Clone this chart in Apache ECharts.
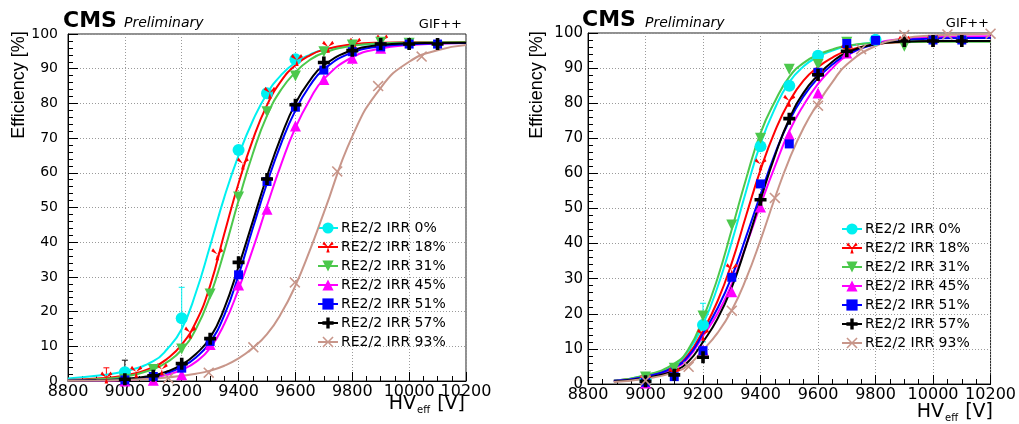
<!DOCTYPE html>
<html lang="en">
<head>
    <meta charset="UTF-8">
    <script src="https://cdn.jsdelivr.net/npm/echarts@6/dist/echarts.min.js"></script>
    <title>RE2/2 efficiency vs HVeff</title>
    <style>
        html, body {margin: 0; padding: 0; background: #fff;}
        #main {width: 1019px; height: 424px;}
    </style>
</head>
<body>
<div id="main"></div>
<script>
    // legend names
    var names = ['RE2/2 IRR 0%', 'RE2/2 IRR 18%', 'RE2/2 IRR 31%', 'RE2/2 IRR 45%',
        'RE2/2 IRR 51%', 'RE2/2 IRR 57%', 'RE2/2 IRR 93%'];

    // ---- left plot: fit curves ----
    var hvFitL = [8800, 8900, 9000, 9100, 9150, 9200, 9250, 9300, 9350, 9400, 9450,
        9500, 9550, 9600, 9650, 9700, 9800, 9900, 10000, 10100, 10200];
    var fitL0  = [0.7, 1.5, 2.8, 5.7, 9.3, 15, 25.5, 39, 53, 65, 75, 82.8, 88.2, 91.8, 94, 95.5, 96.8, 97.2, 97.3, 97.4, 97.4];
    var fitL18 = [0.3, 0.7, 1.6, 4, 6.5, 10.5, 17, 27.5, 42.5, 57, 69.5, 79.5, 86.5, 91, 93.8, 95.5, 97, 97.5, 97.6, 97.6, 97.6];
    var fitL31 = [0.2, 0.5, 1.2, 3.4, 5.5, 9, 15, 24.5, 37.5, 52, 65.5, 76.5, 84, 89, 92.5, 94.6, 96.6, 97.3, 97.5, 97.6, 97.6];
    var fitL45 = [0.05, 0.1, 0.3, 1, 1.8, 3.2, 5.5, 9.5, 16.5, 26.5, 38, 50.5, 62.5, 73, 81, 87, 93.3, 95.8, 96.8, 97.2, 97.4];
    var fitL51 = [0.1, 0.2, 0.5, 1.4, 2.4, 4.1, 6.8, 11.2, 19, 30.5, 44, 57, 68.5, 78, 85, 89.8, 94.7, 96.4, 97, 97.3, 97.4];
    var fitL57 = [0.1, 0.25, 0.6, 1.6, 2.8, 4.7, 7.8, 12.5, 21, 33, 46, 59, 70.5, 80, 86.5, 91, 95.3, 96.8, 97.3, 97.4, 97.5];
    var fitL93 = [0.1, 0.15, 0.3, 0.7, 1, 1.5, 2.1, 3, 4.4, 6.5, 9.5, 13.5, 19.5, 27.5, 37.5, 48.5, 70.5, 84.5, 92, 95.3, 96.8];

    // ---- left plot: measured points ----
    var ptsL0  = [[9000, 2.5], [9200, 18.1], [9400, 66.6], [9500, 82.9], [9600, 92.7]];
    var ptsL18 = [[8935, 1], [9040, 2.7], [9130, 3.4], [9230, 14], [9325, 36.5], [9415, 62.7], [9510, 83.1],
        [9605, 92.5], [9715, 96.3], [9810, 97.2], [9905, 98.1]];
    var ptsL31 = [[9000, 0.5], [9100, 3.3], [9200, 9.2], [9300, 25.1], [9400, 53], [9500, 77.6], [9600, 87.9],
        [9700, 94.9], [9800, 96.8], [9900, 97.6], [10000, 97.3]];
    var ptsL45 = [[9000, 0], [9100, 0.2], [9200, 1.8], [9300, 10.5], [9400, 27.7], [9500, 49.5], [9600, 73.5],
        [9700, 86.9], [9800, 93], [9900, 95.9]];
    var ptsL51 = [[9000, 0.3], [9100, 1.3], [9200, 3.7], [9300, 11.4], [9400, 30.6], [9500, 57.5], [9600, 78.9],
        [9700, 89.6], [9800, 94.9], [9900, 96.3], [10000, 97.1], [10100, 97.1]];
    var ptsL57 = [[9000, 0.5], [9100, 1.5], [9200, 5], [9300, 12.2], [9400, 34.2], [9500, 58.2], [9600, 79.6],
        [9700, 91.8], [9800, 95.2], [9900, 97.1], [10000, 97.1], [10100, 97.1]];
    var ptsL93 = [[9153, 0.8], [9295, 2.4], [9452, 9.7], [9598, 28.4], [9747, 60.4], [9891, 85], [10044, 93.5]];

    // error bars [hv, low, high]
    var errL0 = [[9200, 10, 27]];
    var errL18 = [[8935, 0, 3.8]];
    var errL57 = [[9000, 0, 6]];

    // ---- right plot: fit curves ----
    var hvFitR = [8890, 9000, 9100, 9150, 9200, 9250, 9300, 9350, 9400, 9450, 9500,
        9550, 9600, 9650, 9700, 9800, 9900, 10000, 10100, 10200];
    var fitR0  = [0.9, 2.4, 5.4, 9.5, 17, 27.5, 40.5, 55, 68.5, 78.5, 86, 90.5, 93.3, 95, 96.2, 97.3, 97.6, 97.7, 97.7, 97.7];
    var fitR18 = [0.9, 2.2, 4.9, 8.5, 15.2, 23.5, 34.5, 48, 61, 72, 80.5, 86.5, 90.3, 93, 94.9, 96.8, 97.4, 97.6, 97.7, 97.7];
    var fitR31 = [0.9, 2.5, 5.8, 10, 18.7, 30, 44, 58.5, 71.5, 80.5, 87.5, 91.5, 93.8, 95.3, 96.4, 97.2, 97.4, 97.5, 97.5, 97.5];
    var fitR45 = [0.8, 2, 4.5, 7.6, 13.7, 20, 28.5, 39.5, 51, 62, 72, 79.5, 85.5, 90, 93.5, 97, 98.3, 98.8, 99, 99.1];
    var fitR51 = [0.9, 2.1, 4.8, 8, 14.4, 21.5, 30.5, 42, 54, 65.5, 75, 82, 87.2, 91, 93.8, 96.8, 98, 98.4, 98.6, 98.6];
    var fitR57 = [0.7, 1.7, 3.8, 6.5, 12, 18.5, 27.5, 39.5, 52.5, 65, 75.5, 83, 88, 91.8, 94.4, 96.8, 97.5, 97.7, 97.7, 97.7];
    var fitR93 = [0.6, 1.5, 3.3, 5.5, 9.7, 14.5, 21, 30, 41, 53, 64, 73, 80, 86, 91, 96.3, 98.5, 99.3, 99.6, 99.8];

    // ---- right plot: measured points ----
    var ptsR0  = [[9000, 1.3], [9200, 16.8], [9400, 67.7], [9500, 85], [9600, 93.5], [9800, 98.1]];
    var ptsR18 = [[9000, 1], [9100, 3], [9200, 14], [9300, 32.7], [9400, 62.6], [9500, 80.7], [9600, 88],
        [9700, 95], [9900, 97.5], [10000, 97.8]];
    var ptsR31 = [[9000, 2], [9100, 4.5], [9200, 19.4], [9300, 45.3], [9400, 70], [9500, 89.7], [9600, 91],
        [9700, 97.4], [9900, 96.2], [10000, 97.5], [10100, 97.5]];
    var ptsR45 = [[9000, 0.3], [9200, 9.7], [9300, 26.3], [9400, 50.4], [9500, 71], [9600, 82.9], [9700, 94.3]];
    var ptsR51 = [[9000, 0.5], [9100, 2.1], [9200, 9.5], [9300, 30.4], [9400, 57], [9500, 68.4], [9600, 88.8],
        [9700, 97], [9800, 97.9], [10000, 98], [10100, 98]];
    var ptsR57 = [[9000, 0.8], [9100, 2.6], [9200, 7.6], [9400, 52.5], [9500, 75.6], [9600, 88.1], [9700, 94.8],
        [9900, 97.7], [10000, 97.7], [10100, 97.7]];
    var ptsR93 = [[9000, 1], [9150, 4.9], [9300, 20.9], [9450, 53], [9600, 79.3], [9750, 95.4], [9900, 99.4],
        [10050, 99.6], [10200, 99.8]];

    var errR0 = [[9200, 12, 23]];

    // axis ticks
    var hvMin = 8800, hvMax = 10200, hvStep = 200;
    var effMin = 0, effMax = 100, effStep = 10;

    // styles
    var colors = ['#00f0f0', '#ff0000', '#4cc84c', '#ff00ff', '#0000ff', '#000000', '#c8968a'];
    var symbols = [
        'circle',
        'path://M10 10 L13 20 L7 20 Z M10 10 L0 5 L3 0 Z M10 10 L17 0 L20 5 Z',
        'triangle',
        'triangle',
        'rect',
        'path://M7 0 H13 V7 H20 V13 H13 V20 H7 V13 H0 V7 H7 Z',
        'path://M0 2 L2 0 L10 8 L18 0 L20 2 L12 10 L20 18 L18 20 L10 12 L2 20 L0 18 L8 10 Z'
    ];
    var symRot = [0, 0, 180, 0, 0, 0, 0];
    var symSize = [12, 12, 11, 11, 9, 12, 11];

    var fitsL = [fitL0, fitL18, fitL31, fitL45, fitL51, fitL57, fitL93];
    var ptsL = [ptsL0, ptsL18, ptsL31, ptsL45, ptsL51, ptsL57, ptsL93];
    var fitsR = [fitR0, fitR18, fitR31, fitR45, fitR51, fitR57, fitR93];
    var ptsR = [ptsR0, ptsR18, ptsR31, ptsR45, ptsR51, ptsR57, ptsR93];

    var chart = echarts.init(document.getElementById('main'), null, {renderer: 'canvas'});

    function zip(xs, ys) {
        return xs.map(function (x, i) { return [x, ys[i]]; });
    }

    function errSeries(idx, data, color) {
        return {
            type: 'custom', xAxisIndex: idx, yAxisIndex: idx, z: 3,
            encode: {x: 0, y: [1, 2]},
            data: data,
            renderItem: function (params, api) {
                var a = api.coord([api.value(0), api.value(1)]);
                var b = api.coord([api.value(0), api.value(2)]);
                var st = {stroke: color, lineWidth: 1};
                return {
                    type: 'group', children: [
                        {type: 'line', shape: {x1: a[0], y1: a[1], x2: b[0], y2: b[1]}, style: st},
                        {type: 'line', shape: {x1: b[0] - 3, y1: b[1], x2: b[0] + 3, y2: b[1]}, style: st},
                        {type: 'line', shape: {x1: a[0] - 3, y1: a[1], x2: a[0] + 3, y2: a[1]}, style: st}
                    ]
                };
            }
        };
    }

    function plotSeries(idx, hvFit, fits, pts) {
        var out = [];
        for (var i = 0; i < names.length; i++) {
            out.push({
                name: names[i], type: 'line', xAxisIndex: idx, yAxisIndex: idx,
                data: zip(hvFit, fits[i]),
                smooth: 0.5,
                showSymbol: false, symbol: symbols[i], symbolRotate: symRot[i], symbolSize: symSize[i],
                lineStyle: {width: 2, color: colors[i]},
                itemStyle: {color: colors[i]},
                z: 4, silent: true
            });
        }
        for (var j = 0; j < names.length; j++) {
            out.push({
                name: names[j] + ' pts', type: 'scatter', xAxisIndex: idx, yAxisIndex: idx,
                data: pts[j], symbol: symbols[j], symbolRotate: symRot[j], symbolSize: symSize[j],
                itemStyle: {color: colors[j], opacity: 1}, z: 5
            });
        }
        return out;
    }

    function xAx(idx, fs) {
        return {
            gridIndex: idx, type: 'value', min: hvMin, max: hvMax, interval: hvStep,
            axisLine: {show: true, onZero: false, lineStyle: {color: '#000', width: 1}},
            axisTick: {show: true, inside: true, length: 9, lineStyle: {color: '#000'}},
            minorTick: {show: true, splitNumber: 4, length: 5, lineStyle: {color: '#000'}},
            axisLabel: {
                margin: 3, fontSize: fs, fontFamily: 'DejaVu Sans', color: '#000',
                formatter: function (v) { return String(v); }
            },
            splitLine: {show: true, lineStyle: {type: [1, 2], color: '#9a9a9a', width: 1}}
        };
    }

    function yAx(idx, fs, mg) {
        return {
            gridIndex: idx, type: 'value', min: effMin, max: effMax, interval: effStep,
            axisLine: {show: true, onZero: false, lineStyle: {color: '#000', width: 1}},
            axisTick: {show: true, inside: true, length: 10, lineStyle: {color: '#000'}},
            minorTick: {show: true, splitNumber: 5, length: 5, lineStyle: {color: '#000'}},
            axisLabel: {
                margin: mg, fontSize: fs, fontFamily: 'DejaVu Sans', color: '#000',
                formatter: function (v) { return String(v); }
            },
            splitLine: {show: true, lineStyle: {type: [1, 2], color: '#9a9a9a', width: 1}}
        };
    }

    function legendAt(left, top, gap) {
        return {
            orient: 'vertical', left: left, top: top, data: names,
            itemWidth: 20, itemHeight: 14, itemGap: gap, padding: 0, selectedMode: false,
            textStyle: {fontSize: 14, fontFamily: 'DejaVu Sans', color: '#000', padding: [0, 0, 0, -2]}
        };
    }

    function label(x, y, txt, font, align) {
        return {
            type: 'text', x: x, y: y,
            style: {text: txt, font: font, fill: '#000', align: align || 'left', verticalAlign: 'middle'}
        };
    }

    function ytitle(x, y) {
        return {
            type: 'text', x: x, y: y, rotation: Math.PI / 2,
            style: {text: 'Efficiency [%]', font: '18px "Liberation Sans"', fill: '#000', align: 'center', verticalAlign: 'middle'}
        };
    }

    function xtitle(x, y) {
        return {
            type: 'text', x: x, y: y,
            style: {
                text: '{m|HV}{s|eff}{m| [V]}', fill: '#000', align: 'right', verticalAlign: 'middle',
                rich: {
                    m: {fontSize: 19, fontFamily: 'DejaVu Sans', fill: '#000'},
                    s: {fontSize: 10, fontFamily: 'DejaVu Sans', fill: '#000', padding: [12, 1, 0, 1]}
                }
            }
        };
    }

    var series = plotSeries(0, hvFitL, fitsL, ptsL)
        .concat(plotSeries(1, hvFitR, fitsR, ptsR))
        .concat([
            errSeries(0, errL0, colors[0]),
            errSeries(0, errL18, colors[1]),
            errSeries(0, errL57, colors[5]),
            errSeries(1, errR0, colors[0])
        ]);

    var option = {
        backgroundColor: '#fff',
        animation: false,
        grid: [
            {left: 68, top: 34, width: 398, height: 347, show: true, borderColor: '#222', borderWidth: 1},
            {left: 588, top: 33, width: 404, height: 351, show: true, borderColor: '#222', borderWidth: 1}
        ],
        xAxis: [xAx(0, 16), xAx(1, 16)],
        yAxis: [yAx(0, 14, 10), yAx(1, 15, 5)],
        legend: [legendAt(317, 221, 5), legendAt(841, 222, 5)],
        graphic: [
            label(63, 21, 'CMS', 'bold 22px "DejaVu Sans"'),
            label(124, 23, 'Preliminary', 'italic 14px "DejaVu Sans"'),
            label(462, 25, 'GIF++', '13px "DejaVu Sans"', 'right'),
            ytitle(19, 85),
            xtitle(465, 404),
            label(582, 20, 'CMS', 'bold 22px "DejaVu Sans"'),
            label(645, 23, 'Preliminary', 'italic 14px "DejaVu Sans"'),
            label(989, 24, 'GIF++', '13px "DejaVu Sans"', 'right'),
            ytitle(537, 85),
            xtitle(993, 412)
        ],
        series: series
    };
    chart.setOption(option);
</script>
</body>
</html>
